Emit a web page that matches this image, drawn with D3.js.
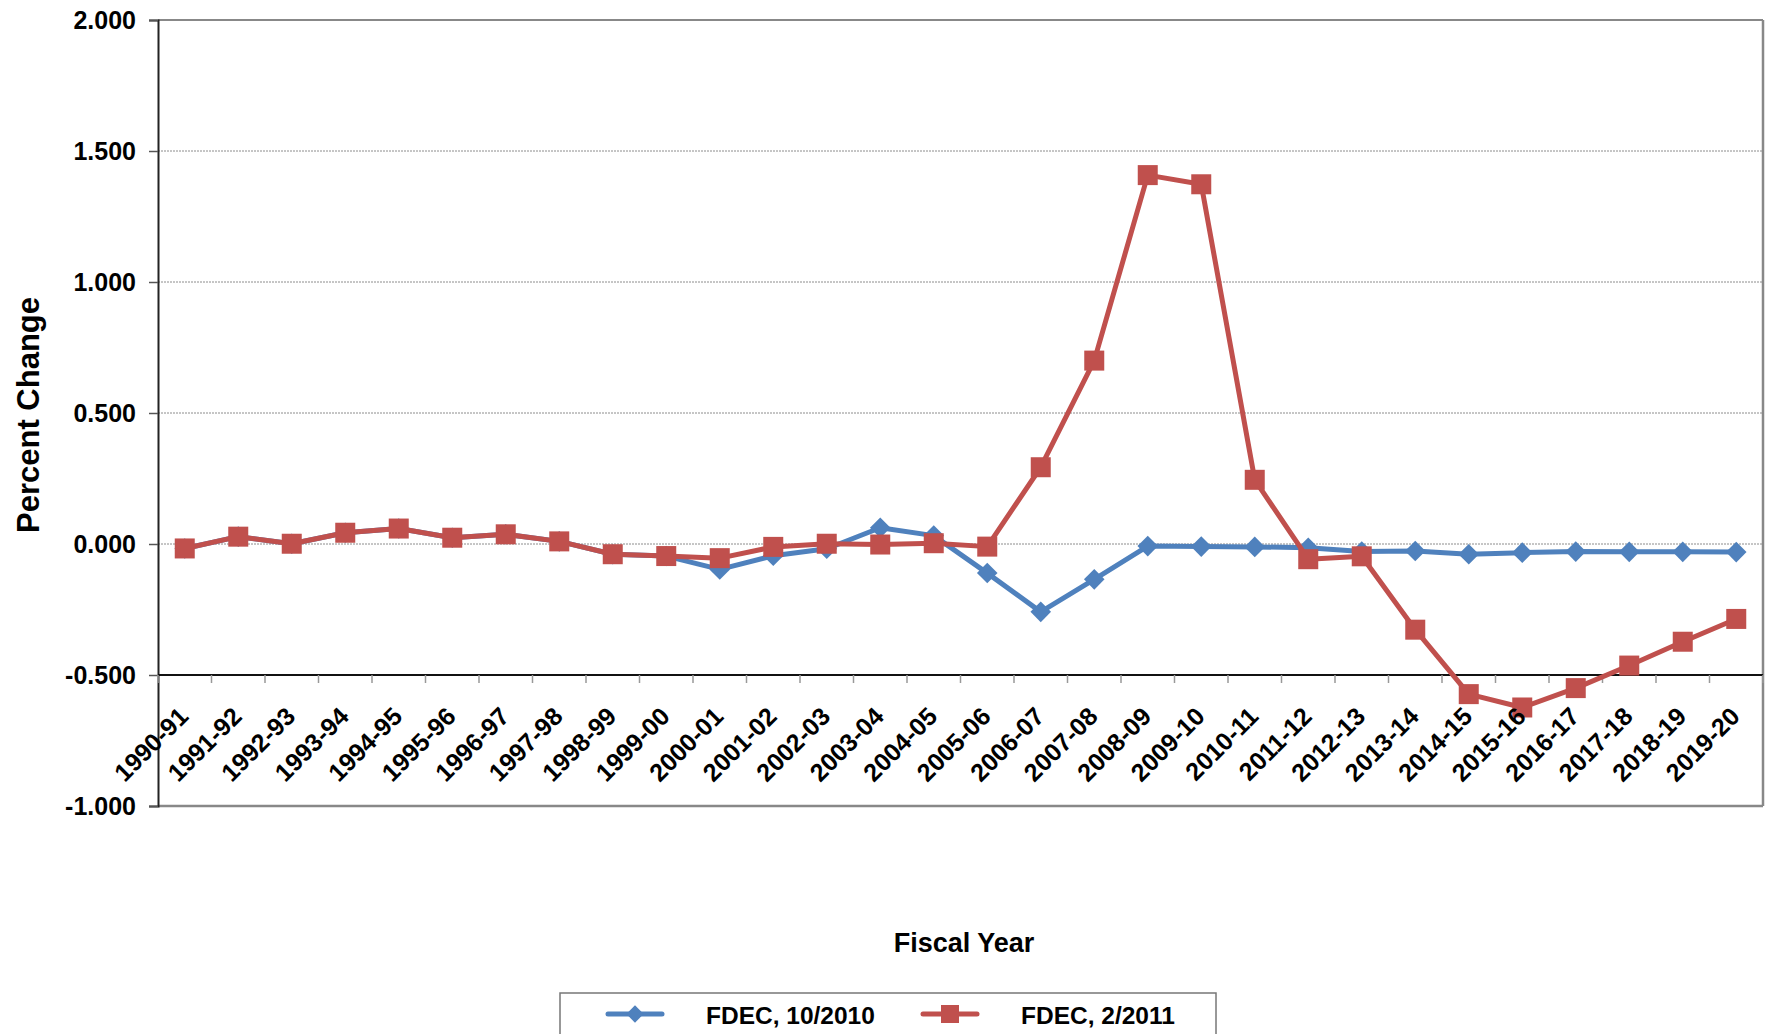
<!DOCTYPE html>
<html>
<head>
<meta charset="utf-8">
<script src="https://cdn.jsdelivr.net/npm/d3@7.9.0/dist/d3.min.js"></script>
<style>
  body { margin: 0; background: #fff; }
  text { font-family: "Liberation Sans", Arial, sans-serif; font-weight: bold; fill: #000; }
</style>
</head>
<body>
<svg id="chart" width="1769" height="1034"></svg>
<script>
// fiscal years on the category axis
const years = ["1990-91","1991-92","1992-93","1993-94","1994-95","1995-96","1996-97","1997-98","1998-99","1999-00",
  "2000-01","2001-02","2002-03","2003-04","2004-05","2005-06","2006-07","2007-08","2008-09","2009-10",
  "2010-11","2011-12","2012-13","2013-14","2014-15","2015-16","2016-17","2017-18","2018-19","2019-20"];

// FDEC, 10/2010
const fdecOct2010 = [-0.017, 0.028, 0.001, 0.043, 0.059, 0.024, 0.037, 0.010, -0.039, -0.046,
  -0.097, -0.045, -0.018, 0.062, 0.032, -0.111, -0.259, -0.135, -0.008, -0.010,
  -0.011, -0.014, -0.029, -0.027, -0.039, -0.033, -0.029, -0.030, -0.030, -0.031];

// FDEC, 2/2011
const fdecFeb2011 = [-0.017, 0.028, 0.001, 0.043, 0.059, 0.024, 0.037, 0.010, -0.039, -0.046,
  -0.054, -0.011, 0.001, -0.002, 0.003, -0.010, 0.293, 0.700, 1.408, 1.373,
  0.245, -0.058, -0.047, -0.327, -0.573, -0.624, -0.550, -0.464, -0.373, -0.286];

const yTicks = [2, 1.5, 1, 0.5, 0, -0.5, -1];
const gridVals = [1.5, 1, 0.5, 0];

const blue = "#4F81BD", red = "#C0504D";

const svg = d3.select("#chart");
const plotL = 158, plotR = 1763, plotT = 20, plotB = 806;

const x = d3.scaleBand().domain(years).range([plotL, plotR]);
const y = d3.scaleLinear().domain([-1, 2]).range([plotB, plotT]);

// gridlines
svg.selectAll(".grid").data(gridVals).enter().append("line")
  .attr("x1", plotL).attr("x2", plotR)
  .attr("y1", d => y(d)).attr("y2", d => y(d))
  .attr("stroke", "#8c8c8c").attr("stroke-width", 1).attr("stroke-dasharray", "2,1");

// plot border
svg.append("line").attr("x1", plotL).attr("x2", plotR).attr("y1", y(2)).attr("y2", y(2))
  .attr("stroke", "#888").attr("stroke-width", 2);
svg.append("line").attr("x1", plotR).attr("x2", plotR).attr("y1", y(2)).attr("y2", y(-1))
  .attr("stroke", "#888").attr("stroke-width", 2.5);
svg.append("line").attr("x1", plotL).attr("x2", plotR).attr("y1", y(-1)).attr("y2", y(-1))
  .attr("stroke", "#888").attr("stroke-width", 2.5);

// y axis (hyphen as minus, like the original)
const fmt = d => d3.format(".3f")(d).replace("\u2212", "-");
const yAxis = svg.append("g").attr("transform", `translate(${plotL},0)`)
  .call(d3.axisLeft(y).tickValues(yTicks).tickSize(9).tickPadding(13).tickFormat(fmt));
yAxis.select(".domain").attr("stroke", "#222").attr("stroke-width", 2);
yAxis.selectAll(".tick line").attr("stroke", "#555").attr("stroke-width", 1.5);
yAxis.selectAll("text").style("font-size", "25px").style("font-family", "Liberation Sans, Arial")
  .style("font-weight", "bold").attr("fill", "#000");

// category axis crossing at -0.5
const axisY = y(-0.5);
svg.append("line").attr("x1", plotL).attr("x2", plotR).attr("y1", axisY).attr("y2", axisY)
  .attr("stroke", "#111").attr("stroke-width", 2);
const bounds = d3.range(years.length + 1).map(i => plotL + i * x.bandwidth());
svg.selectAll(".xtick").data(bounds).enter().append("line")
  .attr("x1", d => d).attr("x2", d => d).attr("y1", axisY).attr("y2", axisY + 8)
  .attr("stroke", "#999").attr("stroke-width", 1.5);

// lines and markers
const line = d3.line().x((d, i) => x(years[i]) + x.bandwidth() / 2).y(d => y(d));

svg.append("path").datum(fdecOct2010).attr("d", line)
  .attr("fill", "none").attr("stroke", blue).attr("stroke-width", 5).attr("stroke-linejoin", "round");
svg.selectAll(".dia").data(fdecOct2010).enter().append("path")
  .attr("d", d3.symbol().type(d3.symbolDiamond2).size(270))
  .attr("transform", (d, i) => `translate(${x(years[i]) + x.bandwidth() / 2},${y(d)})`)
  .attr("fill", blue);

svg.append("path").datum(fdecFeb2011).attr("d", line)
  .attr("fill", "none").attr("stroke", red).attr("stroke-width", 5).attr("stroke-linejoin", "round");
svg.selectAll(".sq").data(fdecFeb2011).enter().append("rect")
  .attr("x", (d, i) => x(years[i]) + x.bandwidth() / 2 - 10)
  .attr("y", d => y(d) - 10)
  .attr("width", 20).attr("height", 20)
  .attr("fill", red);

// category labels sit on top of the markers
svg.selectAll(".xlab").data(years).enter().append("text")
  .attr("transform", d => `translate(${x(d) + x.bandwidth() / 2 + 5},${axisY + 43}) rotate(-45)`)
  .attr("text-anchor", "end")
  .style("font-size", "25px")
  .text(d => d);

// axis titles
svg.append("text").attr("x", 964).attr("y", 952).attr("text-anchor", "middle")
  .style("font-size", "27px").text("Fiscal Year");
svg.append("text").attr("transform", "translate(39,415) rotate(-90)").attr("text-anchor", "middle")
  .style("font-size", "31px").text("Percent Change");

// legend
const lg = svg.append("g");
lg.append("rect").attr("x", 560).attr("y", 993).attr("width", 656).attr("height", 60)
  .attr("fill", "#fff").attr("stroke", "#777").attr("stroke-width", 1.5);
lg.append("line").attr("x1", 608).attr("x2", 662).attr("y1", 1014).attr("y2", 1014)
  .attr("stroke", blue).attr("stroke-width", 5).attr("stroke-linecap", "round");
lg.append("path").attr("d", d3.symbol().type(d3.symbolDiamond2).size(190))
  .attr("transform", "translate(635,1014)").attr("fill", blue);
lg.append("text").attr("x", 706).attr("y", 1024).style("font-size", "24.5px").text("FDEC, 10/2010");
lg.append("line").attr("x1", 923).attr("x2", 977).attr("y1", 1014).attr("y2", 1014)
  .attr("stroke", red).attr("stroke-width", 5).attr("stroke-linecap", "round");
lg.append("rect").attr("x", 941).attr("y", 1005).attr("width", 18).attr("height", 18).attr("fill", red);
lg.append("text").attr("x", 1021).attr("y", 1024).style("font-size", "24.5px").text("FDEC, 2/2011");
</script>
</body>
</html>
